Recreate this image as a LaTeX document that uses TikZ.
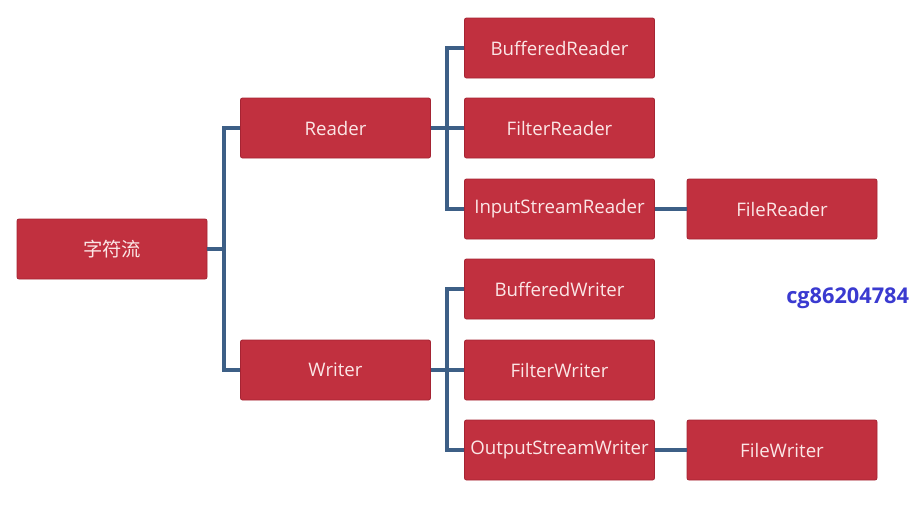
\documentclass[tikz,border=0pt]{standalone}
\usepackage{fontspec}
\setmainfont{Open Sans}
\newfontfamily\cjkfont{Noto Sans CJK SC}
\usetikzlibrary{positioning}
\definecolor{boxred}{HTML}{C1303F}
\definecolor{boxedge}{HTML}{A52433}
\definecolor{boxtext}{HTML}{FBE6E6}
\definecolor{linkblue}{HTML}{3D5F86}
\definecolor{markblue}{HTML}{3A3AD0}
\newcommand{\boxw}{142.5pt}
\newcommand{\boxh}{45pt}
\newcommand{\linkw}{2.6pt}

\begin{document}
\begin{tikzpicture}[x=0.75pt,y=-0.75pt]
	\tikzset{
		classbox/.style = {draw=boxedge, fill=boxred, text=boxtext, line width=0.6pt,
			rounded corners=1.5pt, minimum width=\boxw, minimum height=\boxh,
			inner sep=0pt, font=\fontsize{14}{16}\selectfont},
		link/.style = {draw=linkblue, line width=\linkw}
	}
	\clip (0,0) rectangle (912,504);
	%\draw[help lines] (0,0) grid[step=50] (912,504);
	% root
	\node[classbox, font=\cjkfont\fontsize{14.5}{16}\selectfont] (chars) at (112,249) {字符流};
	% second level
	\node[classbox] (reader) at (335.5,128) {Reader};
	\node[classbox] (writer) at (335.5,370) {Writer};
	% readers
	\node[classbox] (bufreader) at (559.5,48) {BufferedReader};
	\node[classbox] (filtreader) at (559.5,128) {FilterReader};
	\node[classbox] (isreader) at (559.5,209) {InputStreamReader};
	\node[classbox] (filereader) at (782,209) {FileReader};
	% writers
	\node[classbox] (bufwriter) at (559.5,289) {BufferedWriter};
	\node[classbox] (filtwriter) at (559.5,370) {FilterWriter};
	\node[classbox] (oswriter) at (559.5,450) {OutputStreamWriter};
	\node[classbox] (filewriter) at (782,450) {FileWriter};

	\coordinate (rootfork) at (224,249);
	\coordinate (readfork) at (447,128);
	\coordinate (writefork) at (447,370);

	\draw[link] (chars.east) -- (rootfork);
	\draw[link] (rootfork) |- (reader.west);
	\draw[link] (rootfork) |- (writer.west);

	\draw[link] (reader.east) -- (readfork);
	\draw[link] (readfork) |- (bufreader.west);
	\draw[link] (readfork) -- (filtreader.west);
	\draw[link] (readfork) |- (isreader.west);
	\draw[link] (isreader.east) -- (filereader.west);

	\draw[link] (writer.east) -- (writefork);
	\draw[link] (writefork) |- (bufwriter.west);
	\draw[link] (writefork) -- (filtwriter.west);
	\draw[link] (writefork) |- (oswriter.west);
	\draw[link] (oswriter.east) -- (filewriter.west);

	\node[anchor=base west, inner sep=0pt, text=markblue, font=\bfseries\fontsize{16.3}{18}\selectfont] (mark) at (786,303) {cg86204784};
\end{tikzpicture}
\end{document}
